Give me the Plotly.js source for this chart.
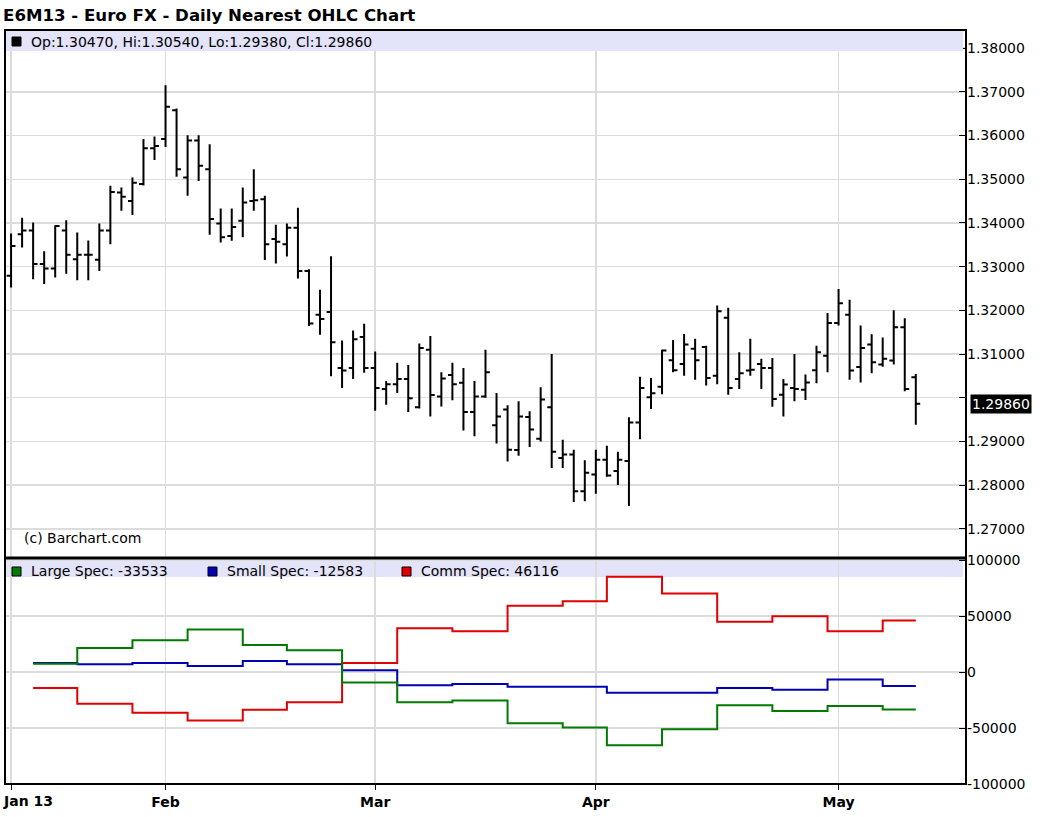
<!DOCTYPE html>
<html>
<head>
<meta charset="utf-8">
<script src="https://cdn.plot.ly/plotly-3.0.1.min.js"></script>
<style>html,body{margin:0;padding:0;background:#fff;}#chart{width:1040px;height:817px;}</style>
</head>
<body>
<div id="chart"></div>
<script>
// ---- Trading dates (categories) ----
const dates = [
 '2013-01-11','2013-01-14','2013-01-15','2013-01-16','2013-01-17','2013-01-18','2013-01-22','2013-01-23','2013-01-24','2013-01-25','2013-01-28','2013-01-29','2013-01-30','2013-01-31',
 '2013-02-01','2013-02-04','2013-02-05','2013-02-06','2013-02-07','2013-02-08','2013-02-11','2013-02-12','2013-02-13','2013-02-14','2013-02-15','2013-02-19','2013-02-20','2013-02-21','2013-02-22','2013-02-25','2013-02-26','2013-02-27','2013-02-28',
 '2013-03-01','2013-03-04','2013-03-05','2013-03-06','2013-03-07','2013-03-08','2013-03-11','2013-03-12','2013-03-13','2013-03-14','2013-03-15','2013-03-18','2013-03-19','2013-03-20','2013-03-21','2013-03-22','2013-03-25','2013-03-26','2013-03-27','2013-03-28',
 '2013-04-01','2013-04-02','2013-04-03','2013-04-04','2013-04-05','2013-04-08','2013-04-09','2013-04-10','2013-04-11','2013-04-12','2013-04-15','2013-04-16','2013-04-17','2013-04-18','2013-04-19','2013-04-22','2013-04-23','2013-04-24','2013-04-25','2013-04-26','2013-04-29','2013-04-30',
 '2013-05-01','2013-05-02','2013-05-03','2013-05-06','2013-05-07','2013-05-08','2013-05-09','2013-05-10'
];
const holidays = ['2013-01-21','2013-02-18','2013-03-29'];

// ---- OHLC series ----
const open = [
 1.3279,1.3374,1.3383,1.3306,1.3296,1.3383,1.3317,1.3327,1.3316,1.3383,1.3470,1.3450,1.3489,1.3571,
 1.3592,1.3658,1.3504,1.3589,1.3523,1.3399,1.3370,1.3405,1.3450,1.3454,1.3363,1.3351,1.3389,1.3290,1.3190,1.3196,1.3068,1.3068,1.3139,
 1.3068,1.3020,1.3031,1.3043,1.2978,1.3110,1.3003,1.3052,1.3034,1.2967,1.3003,1.2937,1.2973,1.2880,1.2956,1.2906,1.2978,1.2862,1.2870,1.2786,
 1.2824,1.2858,1.2832,1.2855,1.2943,1.3001,1.3025,1.3086,1.3077,1.3112,1.3116,1.3050,1.3183,1.3043,1.3062,1.3077,1.3068,1.3007,1.3022,1.3018,1.3063,1.3096,
 1.3171,1.3190,1.3070,1.3122,1.3076,1.3085,1.3161,1.3047
];
const high = [
 1.3376,1.3412,1.3401,1.3335,1.3395,1.3406,1.3378,1.3360,1.3399,1.3485,1.3481,1.3504,1.3592,1.3598,
 1.3715,1.3662,1.3601,1.3601,1.3580,1.3433,1.3433,1.3481,1.3523,1.3462,1.3396,1.3399,1.3435,1.3294,1.3247,1.3324,1.3131,1.3154,1.3169,
 1.3106,1.3038,1.3080,1.3075,1.3124,1.3141,1.3058,1.3080,1.3068,1.3038,1.3110,1.3011,1.2983,1.2992,1.2969,1.3024,1.3100,1.2904,1.2881,1.2857,
 1.2881,1.2890,1.2876,1.2955,1.3048,1.3045,1.3110,1.3132,1.3146,1.3135,1.3119,1.3211,1.3206,1.3104,1.3135,1.3089,1.3091,1.3043,1.3100,1.3053,1.3119,1.3194,
 1.3249,1.3224,1.3165,1.3145,1.3138,1.3200,1.3182,1.3054
];
const low = [
 1.3252,1.3344,1.3271,1.3260,1.3275,1.3284,1.3269,1.3269,1.3290,1.3351,1.3428,1.3418,1.3486,1.3544,
 1.3574,1.3506,1.3462,1.3496,1.3373,1.3355,1.3359,1.3367,1.3428,1.3315,1.3307,1.3323,1.3273,1.3164,1.3144,1.3049,1.3022,1.3043,1.3057,
 1.2970,1.2984,1.3011,1.2967,1.2975,1.2957,1.2980,1.2994,1.2925,1.2912,1.3000,1.2895,1.2854,1.2867,1.2887,1.2900,1.2839,1.2839,1.2761,1.2763,
 1.2780,1.2819,1.2800,1.2752,1.2905,1.2974,1.3008,1.3058,1.3050,1.3041,1.3028,1.3031,1.3007,1.3020,1.3050,1.3020,1.2979,1.2957,1.2992,1.2995,1.3033,1.3058,
 1.3165,1.3041,1.3035,1.3056,1.3071,1.3076,1.3015,1.2938
];
const close = [
 1.3347,1.3383,1.3306,1.3296,1.3393,1.3327,1.3327,1.3327,1.3383,1.3471,1.3460,1.3492,1.3571,1.3576,
 1.3666,1.3523,1.3589,1.3531,1.3409,1.3367,1.3391,1.3447,1.3452,1.3351,1.3357,1.3389,1.3290,1.3170,1.3180,1.3127,1.3062,1.3134,1.3068,
 1.3022,1.3031,1.3043,1.2999,1.3114,1.3006,1.3044,1.3031,1.2967,1.3003,1.3058,1.2957,1.2881,1.2957,1.2927,1.2996,1.2876,1.2870,1.2786,1.2828,
 1.2858,1.2822,1.2858,1.2943,1.3022,1.3010,1.3108,1.3063,1.3122,1.3086,1.3045,1.3198,1.3022,1.3056,1.3064,1.3068,1.2997,1.3030,1.3020,1.3035,1.3104,1.3171,
 1.3216,1.3062,1.3114,1.3081,1.3089,1.3161,1.3020,1.2986
];

// ---- Commitment of Traders (weekly) ----
const cotDates = ['2013-01-15','2013-01-22','2013-01-29','2013-02-05','2013-02-12','2013-02-19','2013-02-26','2013-03-05','2013-03-12','2013-03-19','2013-03-26','2013-04-02','2013-04-09','2013-04-16','2013-04-23','2013-04-30','2013-05-07'];
const largeSpec = [7500,21500,28400,37900,24200,19400,-9300,-26900,-25400,-45700,-49600,-65400,-51000,-29600,-34900,-30400,-33533];
const smallSpec = [8100,6900,8100,5400,9800,6900,1500,-11900,-10700,-13100,-13100,-18500,-18500,-14300,-15800,-6600,-12583];
const commSpec  = [-14300,-28400,-36400,-43300,-33700,-26900,8100,39100,36400,59100,63300,85100,70100,44800,49800,36400,46116];

// ---- Tick labels ----
const monthTickVals = ['2013-01-11','2013-02-01','2013-03-01','2013-04-01','2013-05-01'];
const monthTickText = ['Jan 13','Feb','Mar','Apr','May'];
const priceTickVals = [1.27,1.28,1.29,1.30,1.31,1.32,1.33,1.34,1.35,1.36,1.37,1.38];
const priceTickText = ['1.27000','1.28000','1.29000','','1.31000','1.32000','1.33000','1.34000','1.35000','1.36000','1.37000','1.38000'];
const cotTickVals = [-100000,-50000,0,50000,100000];
const cotTickText = ['-100000','-50000','0','50000','100000'];

const lastIdx = dates.length - 1;
const fmt = v => v.toFixed(5);
const legendText = 'Op:' + fmt(open[lastIdx]) + ', Hi:' + fmt(high[lastIdx]) + ', Lo:' + fmt(low[lastIdx]) + ', Cl:' + fmt(close[lastIdx]);
const nL = cotDates.length - 1;

const FONT = 'DejaVu Sans, Verdana, sans-serif';
const GRID = '#dcdcdc';
const SPLIT = 0.2997;

function stepX() { return cotDates.concat([dates[lastIdx]]); }
function stepY(arr) { return arr.concat([arr[arr.length - 1]]); }

const traces = [
  {
    type: 'ohlc', x: dates, open: open, high: high, low: low, close: close,
    xaxis: 'x', yaxis: 'y', tickwidth: 0.4,
    increasing: {line: {color: '#000000', width: 2}},
    decreasing: {line: {color: '#000000', width: 2}},
    showlegend: false, hoverinfo: 'skip'
  },
  {type: 'scatter', mode: 'lines', x: stepX(), y: stepY(commSpec), xaxis: 'x', yaxis: 'y2',
   line: {shape: 'hv', color: '#e00000', width: 2}, showlegend: false, hoverinfo: 'skip'},
  {type: 'scatter', mode: 'lines', x: stepX(), y: stepY(smallSpec), xaxis: 'x', yaxis: 'y2',
   line: {shape: 'hv', color: '#0000b4', width: 2}, showlegend: false, hoverinfo: 'skip'},
  {type: 'scatter', mode: 'lines', x: stepX(), y: stepY(largeSpec), xaxis: 'x', yaxis: 'y2',
   line: {shape: 'hv', color: '#007a00', width: 2}, showlegend: false, hoverinfo: 'skip'}
];

const px = p => (p - 5) / 961;       // pixel x -> paper
const py = p => (784 - p) / 754;     // pixel y -> paper

// first month label is drawn as an annotation so it stays fully inside the page
const axisTickText = monthTickText.map((t, i) => i === 0 ? '' : '<b>' + t + '</b>');

const layout = {
  width: 1040, height: 817,
  margin: {l: 5, r: 74, t: 30, b: 33, pad: 0},
  paper_bgcolor: '#ffffff', plot_bgcolor: '#ffffff',
  font: {family: FONT, size: 14, color: '#000000'},
  showlegend: false,
  title: {text: '<b>E6M13 - Euro FX - Daily Nearest OHLC Chart</b>', x: 0.003, xanchor: 'left', xref: 'container',
          y: 1 - 15/817, yanchor: 'middle', yref: 'container', font: {family: FONT, size: 16.6, color: '#000000'}},
  xaxis: {
    type: 'date', anchor: 'y2',
    range: ['2013-01-10 10:48', '2013-05-16 13:12'],
    rangebreaks: [{bounds: ['sat', 'mon']}, {values: holidays}],
    rangeslider: {visible: false},
    tickmode: 'array', tickvals: monthTickVals, ticktext: axisTickText,
    ticks: 'outside', ticklen: 5, tickcolor: '#000000',
    tickfont: {family: FONT, size: 14, color: '#000000'},
    showgrid: true, gridcolor: GRID, gridwidth: 1.5,
    showline: false, zeroline: false, fixedrange: true
  },
  yaxis: {
    domain: [SPLIT, 1], side: 'right', anchor: 'x',
    range: [1.2633, 1.38417],
    tickmode: 'array', tickvals: priceTickVals, ticktext: priceTickText,
    ticks: 'inside', ticklen: 7, tickcolor: '#000000',
    tickfont: {family: FONT, size: 14, color: '#000000'},
    showgrid: true, gridcolor: GRID, gridwidth: 1.5,
    showline: false, zeroline: false, fixedrange: true
  },
  yaxis2: {
    domain: [0, SPLIT], side: 'right', anchor: 'x',
    range: [-100000, 101800],
    tickmode: 'array', tickvals: cotTickVals, ticktext: cotTickText,
    ticks: 'inside', ticklen: 7, tickcolor: '#000000',
    tickfont: {family: FONT, size: 14, color: '#000000'},
    showgrid: true, gridcolor: GRID, gridwidth: 1.5,
    showline: false, zeroline: false, fixedrange: true
  },
  shapes: [
    // legend bands
    {type: 'rect', xref: 'paper', yref: 'paper', x0: 0, x1: px(963), y0: py(51), y1: py(31), fillcolor: '#e3e3f9', line: {width: 0}, layer: 'above'},
    {type: 'rect', xref: 'paper', yref: 'paper', x0: 0, x1: px(963), y0: py(577), y1: py(559), fillcolor: '#e3e3f9', line: {width: 0}, layer: 'below'},
    // legend squares
    {type: 'rect', xref: 'paper', yref: 'paper', x0: px(12), x1: px(21), y0: py(46), y1: py(37), fillcolor: '#000000', line: {color: '#000000', width: 1}, layer: 'above'},
    {type: 'rect', xref: 'paper', yref: 'paper', x0: px(12), x1: px(21), y0: py(576), y1: py(567), fillcolor: '#007a00', line: {color: '#000000', width: 1}, layer: 'above'},
    {type: 'rect', xref: 'paper', yref: 'paper', x0: px(208), x1: px(217), y0: py(576), y1: py(567), fillcolor: '#0000b4', line: {color: '#000000', width: 1}, layer: 'above'},
    {type: 'rect', xref: 'paper', yref: 'paper', x0: px(402), x1: px(411), y0: py(576), y1: py(567), fillcolor: '#e00000', line: {color: '#000000', width: 1}, layer: 'above'},
    // frame and divider
    {type: 'rect', xref: 'paper', yref: 'paper', x0: 0, x1: 1, y0: 0, y1: 1, line: {color: '#000000', width: 2}, layer: 'above'},
    {type: 'line', xref: 'paper', yref: 'paper', x0: 0, x1: 1, y0: SPLIT, y1: SPLIT, line: {color: '#000000', width: 3}, layer: 'above'}
  ],
  annotations: [
    {xref: 'paper', yref: 'paper', x: px(1), y: py(801), xanchor: 'left', yanchor: 'middle', showarrow: false,
     text: '<b>' + monthTickText[0] + '</b>', font: {family: FONT, size: 14, color: '#000000'}},
    {xref: 'paper', yref: 'paper', x: px(29), y: py(41.5), xanchor: 'left', yanchor: 'middle', showarrow: false,
     text: legendText, font: {family: FONT, size: 14, color: '#000000'}},
    {xref: 'paper', yref: 'paper', x: px(22), y: py(538), xanchor: 'left', yanchor: 'middle', showarrow: false,
     text: '(c) Barchart.com', font: {family: FONT, size: 14, color: '#000000'}},
    {xref: 'paper', yref: 'paper', x: px(29), y: py(571), xanchor: 'left', yanchor: 'middle', showarrow: false,
     text: 'Large Spec: ' + largeSpec[nL], font: {family: FONT, size: 14, color: '#000000'}},
    {xref: 'paper', yref: 'paper', x: px(225), y: py(571), xanchor: 'left', yanchor: 'middle', showarrow: false,
     text: 'Small Spec: ' + smallSpec[nL], font: {family: FONT, size: 14, color: '#000000'}},
    {xref: 'paper', yref: 'paper', x: px(419), y: py(571), xanchor: 'left', yanchor: 'middle', showarrow: false,
     text: 'Comm Spec: ' + commSpec[nL], font: {family: FONT, size: 14, color: '#000000'}},
    {xref: 'paper', yref: 'y', x: 1, y: close[lastIdx], xanchor: 'left', yanchor: 'middle', xshift: 4, showarrow: false,
     text: fmt(close[lastIdx]), bgcolor: '#000000', borderpad: 1,
     font: {family: FONT, size: 14, color: '#ffffff'}}
  ]
};

Plotly.newPlot('chart', traces, layout, {displayModeBar: false, staticPlot: true});
</script>
</body>
</html>
